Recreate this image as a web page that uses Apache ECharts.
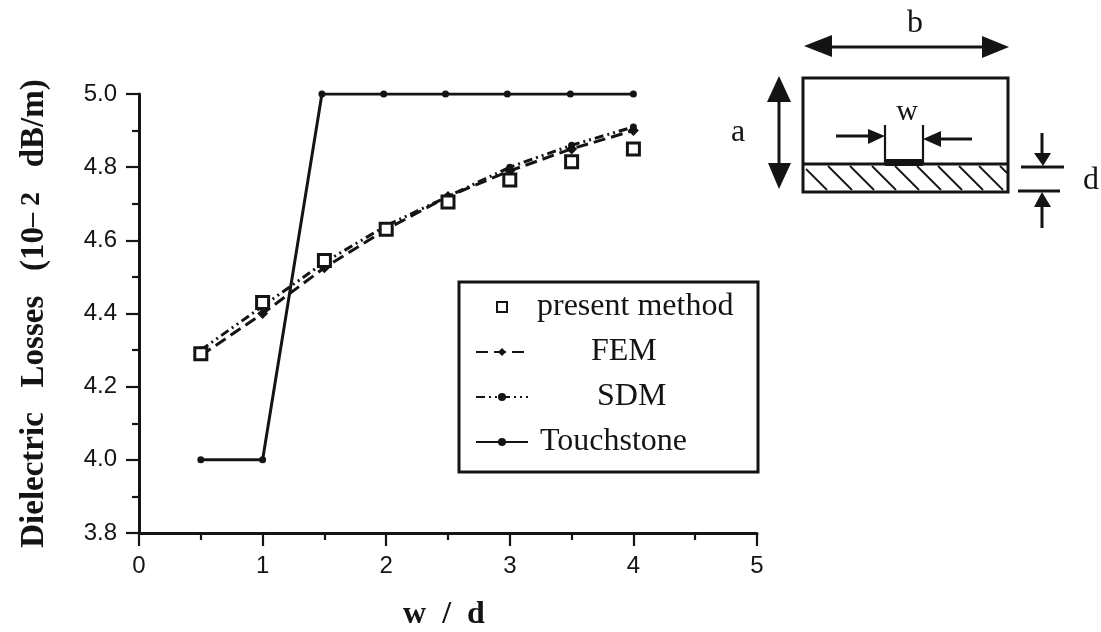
<!DOCTYPE html>
<html><head><meta charset="utf-8">
<style>html,body{margin:0;padding:0;background:#fff}#c{width:1101px;height:632px}</style>
<script src="https://cdn.jsdelivr.net/npm/echarts@6/dist/echarts.min.js"></script>
</head><body><div id="c"></div>
<script>
const wd = [0.5, 1, 1.5, 2, 2.5, 3, 3.5, 4];
const touchstoneX = [0.5, 1, 1.48, 1.98, 2.48, 2.98, 3.49, 4];
const present = [4.29, 4.43, 4.545, 4.63, 4.705, 4.765, 4.815, 4.85];
const fem = [4.285, 4.40, 4.525, 4.63, 4.72, 4.79, 4.85, 4.90];
const sdm = [4.30, 4.42, 4.54, 4.64, 4.72, 4.80, 4.86, 4.91];
const touchstone = [4.0, 4.0, 5.0, 5.0, 5.0, 5.0, 5.0, 5.0];
const zip = (a, xs) => a.map((v, i) => [(xs || wd)[i], v]);
const INK = '#141414', SERIF = '"Liberation Serif", serif', SANS = '"Liberation Sans", sans-serif';

const ln = (x1, y1, x2, y2, w) => ({type:'line', silent:true, shape:{x1,y1,x2,y2}, style:{stroke:INK, lineWidth:w||2}});
const tri = pts => ({type:'polygon', silent:true, shape:{points:pts}, style:{fill:INK}});
const lbl = (x, y, t, s) => ({type:'text', silent:true, x, y, style:{text:t, fill:INK, font:(s||32)+'px '+SERIF, textAlign:'center', textVerticalAlign:'middle'}});

const diagram = [
  {type:'rect', silent:true, shape:{x:803,y:78,width:205,height:114}, style:{fill:'#fff', stroke:INK, lineWidth:3}},
  ln(803,164,1008,164,3),
  ln(885,125,885,163,2.2), ln(923,125,923,163,2.2),
  {type:'rect', silent:true, shape:{x:885,y:159,width:38,height:7}, style:{fill:INK}},
  ln(806,169,827,190,1.8),
  ln(828,166,852,190,1.8), ln(850,166,874,190,1.8), ln(872,166,896,190,1.8), ln(895,166,919,190,1.8),
  ln(917,166,941,190,1.8), ln(938,166,962,190,1.8), ln(959,166,983,190,1.8), ln(979,166,1003,190,1.8), ln(1000,166,1007,173,1.8),
  ln(825,47,990,47,3), tri([[804,46],[832,35],[832,57]]), tri([[1009,47],[982,36],[982,58]]),
  ln(779,95,779,170,3), tri([[779,76],[767,102],[791,102]]), tri([[779,189],[768,163],[791,163]]),
  ln(836,136,872,136,3), tri([[885,136],[868,129],[868,144]]),
  ln(972,139,938,139,3), tri([[923,139],[941,131],[941,147]]),
  ln(1021,167,1064,167,3), ln(1018,191,1060,191,3),
  ln(1042,133,1042,155,3), tri([[1043,166],[1034,153],[1051,153]]),
  ln(1042,228,1042,205,3), tri([[1042,192],[1034,207],[1051,207]]),
  lbl(915,24,'b'), lbl(738,133,'a'), lbl(907,112,'w',30), lbl(1091,181,'d')
];

const rowText = (pad) => ({fontFamily:SERIF, fontSize:32, color:INK, width:225 - pad, align:'left', lineHeight:33, padding:[0,0,0,pad]});
const chart = echarts.init(document.getElementById('c'), null, {renderer:'canvas'});
chart.setOption({
  animation:false, backgroundColor:'#fff',
  grid:{left:139, right:344, top:94, bottom:99, outerBoundsMode:'none'},
  xAxis:{type:'value', min:0, max:5, interval:1, name:'w  /  d ', nameLocation:'middle', nameGap:66,
    nameTextStyle:{fontFamily:SERIF, fontWeight:'bold', fontSize:32, color:INK},
    axisLine:{onZero:false, lineStyle:{color:INK,width:3}},
    axisTick:{inside:false, length:13, lineStyle:{color:INK,width:2.2}},
    minorTick:{show:true, splitNumber:2, length:7, lineStyle:{color:INK,width:2.2}},
    axisLabel:{margin:21, fontFamily:SANS, fontSize:24, color:INK},
    splitLine:{show:false}},
  yAxis:{type:'value', min:3.8, max:5.0, interval:0.2,
    name:'{a|Dielectric   Losses   (10}{s|– 2}{a|   dB/m)}', nameLocation:'middle', nameGap:88,
    nameTextStyle:{rich:{
      a:{fontFamily:SERIF, fontWeight:'bold', fontSize:33, color:INK},
      s:{fontFamily:SERIF, fontWeight:'bold', fontSize:28, color:INK, verticalAlign:'top', lineHeight:28}}},
    axisLine:{onZero:false, lineStyle:{color:INK,width:3}},
    axisTick:{length:13, lineStyle:{color:INK,width:2.2}},
    minorTick:{show:true, splitNumber:2, length:7, lineStyle:{color:INK,width:2.2}},
    axisLabel:{margin:22, fontFamily:SANS, fontSize:24, color:INK, formatter:v=>v.toFixed(1)},
    splitLine:{show:false}},
  legend:{orient:'vertical', left:459, top:282, padding:[9,0,14,16], itemWidth:52, itemHeight:10, itemGap:13,
    backgroundColor:'#fff', borderColor:INK, borderWidth:3, borderRadius:0, selectedMode:false,
    data:[{name:'present method', icon:'path://M0 0H10V10H0Z'},'FEM','SDM','Touchstone'],
    formatter:n=>({'present method':'{p|'+n+'}','FEM':'{f|'+n+'}','SDM':'{s|'+n+'}','Touchstone':'{t|'+n+'}'}[n]),
    textStyle:{rich:{p:rowText(4), f:rowText(58), s:rowText(64), t:rowText(7)}}},
  series:[
    {name:'Touchstone', type:'line', data:zip(touchstone, touchstoneX), symbol:'circle', symbolSize:7, itemStyle:{color:INK}, lineStyle:{color:INK,width:3}, z:2},
    {name:'FEM', type:'line', data:zip(fem), symbol:'diamond', symbolSize:11, itemStyle:{color:INK}, lineStyle:{color:INK,width:3,type:[12,6]}, z:3},
    {name:'SDM', type:'line', data:zip(sdm), symbol:'circle', symbolSize:7, itemStyle:{color:INK}, lineStyle:{color:INK,width:3,type:[9,4,2,4,2,4]}, z:3},
    {name:'present method', type:'scatter', data:zip(present), symbol:'rect', symbolSize:12, itemStyle:{color:'#fff',borderColor:INK,borderWidth:3,opacity:1}, z:4}
  ],
  graphic:{elements:diagram}
});
</script></body></html>
